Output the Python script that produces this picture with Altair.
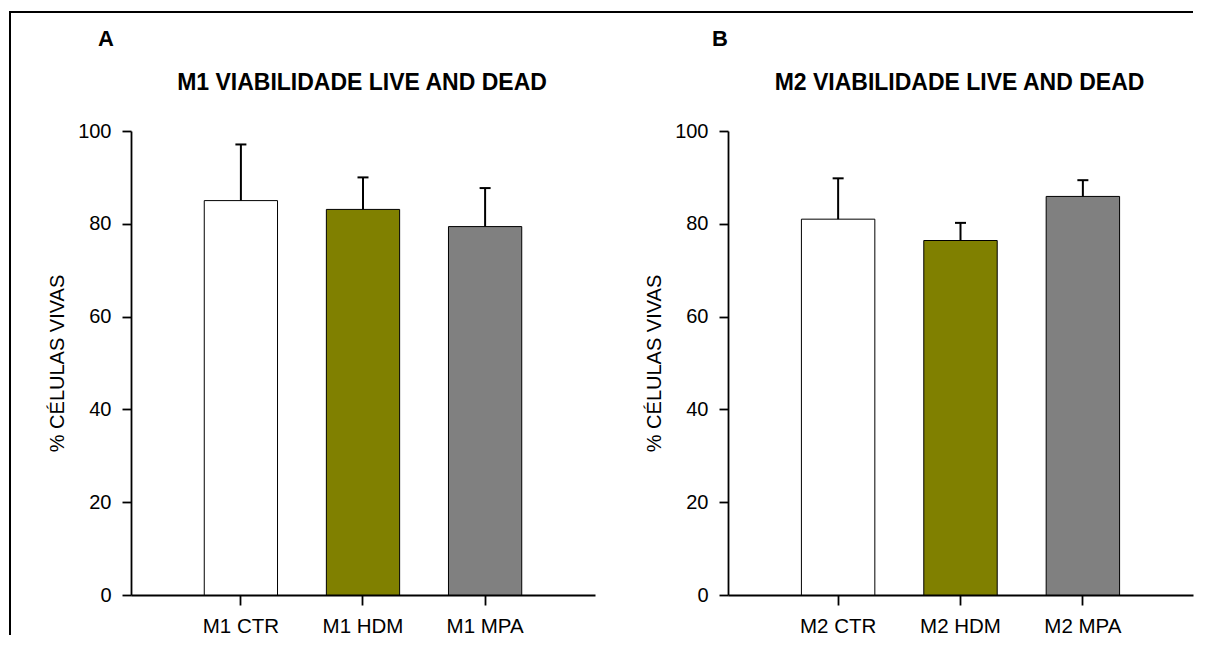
import altair as alt
import pandas as pd

# ---- data ----
panel_letters = ["A", "B"]
panel_titles = ["M1 VIABILIDADE LIVE AND DEAD", "M2 VIABILIDADE LIVE AND DEAD"]
cats_m1 = ["M1 CTR", "M1 HDM", "M1 MPA"]
means_m1 = [85.0, 83.1, 79.4]
sd_m1 = [12.1, 6.9, 8.3]
cats_m2 = ["M2 CTR", "M2 HDM", "M2 MPA"]
means_m2 = [81.0, 76.4, 85.9]
sd_m2 = [8.8, 3.8, 3.5]
y_title = "% CÉLULAS VIVAS"
y_ticks = [0, 20, 40, 60, 80, 100]

# ---- style ----
FONT = "Liberation Sans"
FILLS = ["#ffffff", "#808000", "#808080"]
H = 464
LW = 1.8


def panel(letter, title, cats, means, sds, width, letter_x, border=False):
    df = pd.DataFrame({"cat": cats, "mean": means, "sd": sds})
    df["top"] = df["mean"] + df["sd"]
    base = alt.Chart(df)

    xax = alt.Axis(title=None, labelAngle=0, labelFontSize=20.5, labelPadding=11,
                   tickSize=10, tickWidth=LW, domainWidth=LW, domainColor="black",
                   tickColor="black", labelColor="black", labelFont=FONT, grid=False)
    yax = alt.Axis(values=y_ticks, title=y_title, titleFontSize=20, titleFontWeight="normal",
                   titleFont=FONT, titleColor="black", titleX=-74, titleY=H / 2,
                   titleBaseline="middle", titleAlign="center",
                   labelFontSize=20, labelPadding=11, labelFont=FONT, labelColor="black",
                   tickSize=9, tickWidth=LW, domainWidth=LW, domainColor="black",
                   tickColor="black", grid=False)
    xs = alt.Scale(paddingInner=0.4, paddingOuter=0.6)
    ys = alt.Scale(domain=[0, 100], nice=False)

    bars = base.mark_bar(stroke="black", strokeWidth=1, opacity=1).encode(
        x=alt.X("cat:N", sort=cats, scale=xs, axis=xax),
        y=alt.Y("mean:Q", scale=ys, axis=yax, stack=None),
        fill=alt.Fill("cat:N", scale=alt.Scale(domain=cats, range=FILLS), legend=None),
    )
    err = base.mark_rule(strokeWidth=2, color="black", opacity=1).encode(
        x=alt.X("cat:N", sort=cats), y="mean:Q", y2="top:Q")
    caps = base.mark_tick(size=11, thickness=2, color="black", opacity=1).encode(
        x=alt.X("cat:N", sort=cats), y="top:Q")

    lt = alt.Chart(pd.DataFrame({"t": [letter]})).mark_text(
        font=FONT, fontSize=22, fontWeight="bold", color="black",
        align="center", baseline="middle").encode(
        text="t:N", x=alt.value(letter_x), y=alt.value(-92))
    tt = alt.Chart(pd.DataFrame({"t": [title]})).mark_text(
        font=FONT, fontSize=23, fontWeight="bold", color="black",
        align="center", baseline="middle").encode(
        text="t:N", x=alt.value(width / 2 - 1), y=alt.value(-48))

    layers = [bars, err, caps, lt, tt]
    if border:
        one = pd.DataFrame({"k": [0]})
        left = alt.Chart(one).mark_rule(strokeWidth=2, color="black").encode(
            x=alt.value(-121), y=alt.value(-119), y2=alt.value(504))
        top = alt.Chart(one).mark_rule(strokeWidth=2, color="black").encode(
            x=alt.value(-122), x2=alt.value(1062), y=alt.value(-119))
        layers = [left, top] + layers
    return alt.layer(*layers).properties(width=width, height=H)


pa = panel(panel_letters[0], panel_titles[0], cats_m1, means_m1, sd_m1, 464, -25, border=True)
pb = panel(panel_letters[1], panel_titles[1], cats_m2, means_m2, sd_m2, 465, -8)

chart = alt.hconcat(pa, pb, spacing=133, bounds="flush").properties(
    padding={"left": 0, "top": 3, "right": 0, "bottom": 0}
).configure(font=FONT, background="white").configure_view(stroke=None)

chart.save("out.html", embed_options={"renderer": "svg", "actions": False})
